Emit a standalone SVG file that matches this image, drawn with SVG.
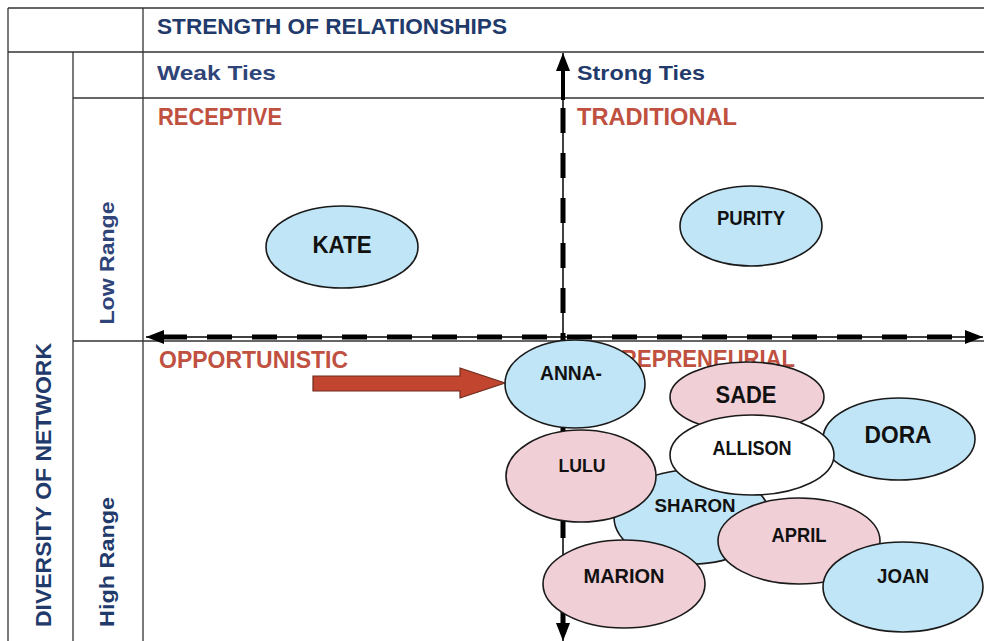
<svg xmlns="http://www.w3.org/2000/svg" width="984" height="641" viewBox="0 0 984 641">
  <style>
    .grid { stroke: #333; stroke-width: 1.3; fill: none; }
    .axis { stroke: #000; stroke-width: 1.5; fill: none; }
    .dash { stroke: #000; stroke-width: 5; fill: none; stroke-dasharray: 25 20; }
    .solidAxis { stroke: #000; stroke-width: 4; fill: none; }
    .hdr { font-family: "Liberation Sans", Arial, sans-serif; font-weight: bold; fill: #1f3a6b; }
    .sub { font-family: "Liberation Sans", Arial, sans-serif; font-weight: bold; fill: #2f4479; }
    .quad { font-family: "Liberation Sans", Arial, sans-serif; font-weight: bold; fill: #c0503f; }
    .node ellipse { stroke: #1a1a1a; stroke-width: 1.6; }
    .blue ellipse { fill: #c0e5f6; }
    .pink ellipse { fill: #f1cfd6; }
    .white ellipse { fill: #ffffff; }
    .node text { font-family: "Liberation Sans", Arial, sans-serif; font-weight: bold; fill: #111; text-anchor: middle; }
  </style>
  <defs>
    <marker id="head" viewBox="0 0 18 14" refX="18" refY="7" markerWidth="18" markerHeight="14" markerUnits="userSpaceOnUse" orient="auto">
      <path d="M0,0 L18,7 L0,14 Z" fill="#000"/>
    </marker>
  </defs>

  <rect width="984" height="641" fill="#ffffff"/>

  <!-- table grid -->
  <g id="grid">
    <line class="grid" x1="8" y1="8" x2="984" y2="8"/>
    <line class="grid" x1="8" y1="52" x2="984" y2="52"/>
    <line class="grid" x1="73" y1="98" x2="984" y2="98"/>
    <line class="grid" x1="73" y1="341" x2="984" y2="341"/>
    <line class="grid" x1="8" y1="8" x2="8" y2="641"/>
    <line class="grid" x1="73" y1="52" x2="73" y2="641"/>
    <line class="grid" x1="143" y1="8" x2="143" y2="641"/>
  </g>

  <!-- headings -->
  <g id="headings">
    <text class="hdr" x="157" y="34" font-size="22" textLength="350" lengthAdjust="spacingAndGlyphs">STRENGTH OF RELATIONSHIPS</text>
    <text class="sub" x="157" y="80" font-size="21" textLength="119" lengthAdjust="spacingAndGlyphs">Weak Ties</text>
    <text class="hdr" x="577" y="80" font-size="21" textLength="128" lengthAdjust="spacingAndGlyphs">Strong Ties</text>
    <text class="hdr" transform="translate(51,485) rotate(-90)" text-anchor="middle" font-size="22" textLength="284" lengthAdjust="spacingAndGlyphs">DIVERSITY OF NETWORK</text>
    <text class="sub" transform="translate(114,263) rotate(-90)" text-anchor="middle" font-size="21" textLength="123" lengthAdjust="spacingAndGlyphs">Low Range</text>
    <text class="hdr" transform="translate(114,562) rotate(-90)" text-anchor="middle" font-size="21" textLength="130" lengthAdjust="spacingAndGlyphs">High Range</text>
  </g>

  <!-- quadrant labels -->
  <g id="quadrants">
    <text class="quad" x="158" y="125" font-size="23" textLength="124" lengthAdjust="spacingAndGlyphs">RECEPTIVE</text>
    <text class="quad" x="577" y="125" font-size="23" textLength="160" lengthAdjust="spacingAndGlyphs">TRADITIONAL</text>
    <text class="quad" x="159" y="368" font-size="23" textLength="189" lengthAdjust="spacingAndGlyphs">OPPORTUNISTIC</text>
    <text class="quad" x="577" y="367" font-size="23" textLength="218" lengthAdjust="spacingAndGlyphs">ENTREPRENEURIAL</text>
  </g>

  <!-- axes and arrow -->
  <g id="connectors">
    <line class="axis" x1="563" y1="341" x2="563" y2="53" marker-end="url(#head)"/>
    <line class="axis" x1="563" y1="341" x2="563" y2="641" marker-end="url(#head)"/>
    <line class="axis" x1="563" y1="337" x2="146" y2="337" marker-end="url(#head)"/>
    <line class="axis" x1="563" y1="337" x2="983" y2="337" marker-end="url(#head)"/>
    <line class="solidAxis" x1="563" y1="66" x2="563" y2="100"/>
    <line class="dash" x1="563" y1="108" x2="563" y2="628"/>
    <line class="dash" x1="162" y1="337" x2="968" y2="337"/>
    <polygon points="313,376 460,376 460,368 505,383 460,398 460,391 313,391" fill="#c2452f" stroke="#6e2a1c" stroke-width="1.2"/>
  </g>

  <!-- nodes -->
  <g id="kate" class="node blue"><ellipse cx="342" cy="247" rx="76" ry="41"/><text x="342" y="253" font-size="23" textLength="59" lengthAdjust="spacingAndGlyphs">KATE</text></g>
  <g id="purity" class="node blue"><ellipse cx="751" cy="226" rx="71" ry="40"/><text x="751" y="225" font-size="20" textLength="68" lengthAdjust="spacingAndGlyphs">PURITY</text></g>
  <g id="sharon" class="node blue"><ellipse cx="692" cy="517" rx="78" ry="47"/><text x="695" y="512" font-size="19" textLength="81" lengthAdjust="spacingAndGlyphs">SHARON</text></g>
  <g id="sade" class="node pink"><ellipse cx="747" cy="397" rx="77" ry="35"/><text x="746" y="403" font-size="24" textLength="61" lengthAdjust="spacingAndGlyphs">SADE</text></g>
  <g id="dora" class="node blue"><ellipse cx="899" cy="439" rx="76" ry="41"/><text x="898" y="443" font-size="23" textLength="67" lengthAdjust="spacingAndGlyphs">DORA</text></g>
  <g id="allison" class="node white"><ellipse cx="752" cy="455" rx="82" ry="40"/><text x="752" y="455" font-size="21" textLength="79" lengthAdjust="spacingAndGlyphs">ALLISON</text></g>
  <g id="anna" class="node blue"><ellipse cx="575" cy="384" rx="70" ry="44"/><text x="571" y="380" font-size="21" textLength="62" lengthAdjust="spacingAndGlyphs">ANNA-</text></g>
  <g id="lulu" class="node pink"><ellipse cx="581" cy="476" rx="75" ry="46"/><text x="582" y="472" font-size="19" textLength="47" lengthAdjust="spacingAndGlyphs">LULU</text></g>
  <g id="marion" class="node pink"><ellipse cx="624" cy="584" rx="81" ry="44"/><text x="624" y="583" font-size="21" textLength="81" lengthAdjust="spacingAndGlyphs">MARION</text></g>
  <g id="april" class="node pink"><ellipse cx="799" cy="541" rx="81" ry="43"/><text x="799" y="542" font-size="21" textLength="55" lengthAdjust="spacingAndGlyphs">APRIL</text></g>
  <g id="joan" class="node blue"><ellipse cx="903" cy="587" rx="80" ry="45"/><text x="903" y="583" font-size="21" textLength="52" lengthAdjust="spacingAndGlyphs">JOAN</text></g>
</svg>
